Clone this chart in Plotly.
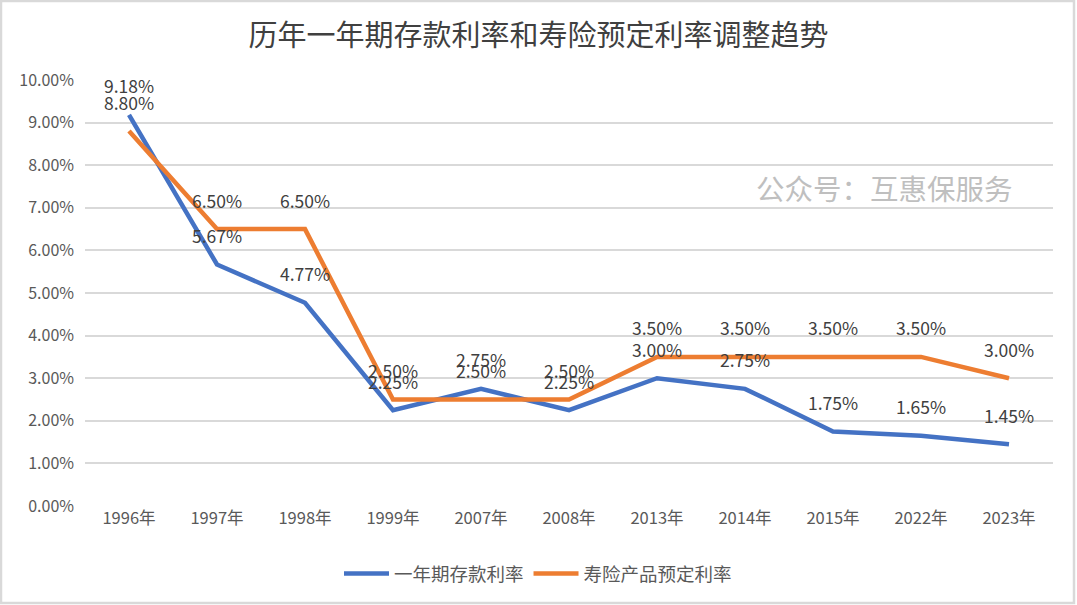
import plotly.graph_objects as go

categories = ["1996年", "1997年", "1998年", "1999年", "2007年", "2008年",
              "2013年", "2014年", "2015年", "2022年", "2023年"]
deposit_rate = [9.18, 5.67, 4.77, 2.25, 2.75, 2.25, 3.00, 2.75, 1.75, 1.65, 1.45]
insurance_rate = [8.80, 6.50, 6.50, 2.50, 2.50, 2.50, 3.50, 3.50, 3.50, 3.50, 3.00]
series_names = ["一年期存款利率", "寿险产品预定利率"]
y_ticks = [0, 1, 2, 3, 4, 5, 6, 7, 8, 9, 10]

W, H = 1077, 605
ML, MR, MT, MB = 85, 24, 80, 99
PW, PH = W - ML - MR, H - MT - MB

BLUE = "#4472C4"
ORANGE = "#ED7D31"
FONT = "Noto Sans CJK SC"

fig = go.Figure()
for name, vals, col in [(series_names[0], deposit_rate, BLUE),
                        (series_names[1], insurance_rate, ORANGE)]:
    fig.add_trace(go.Scatter(x=categories, y=vals, name=name, mode="lines",
                             line=dict(color=col, width=4.5)))
    for c, v in zip(categories, vals):
        fig.add_annotation(x=c, y=v, text=f"{v:.2f}%", showarrow=False,
                           yshift=29, font=dict(family=FONT, size=17.5, color="#404040"))

fig.add_annotation(xref="paper", yref="paper", x=(884 - ML) / PW, y=(H - MB - 187) / PH,
                   xanchor="center", yanchor="middle",
                   text="公众号：互惠保服务", showarrow=False,
                   font=dict(family=FONT, size=28.5, color="#BFBFBF"))

# outer frame
fig.add_shape(type="rect", xref="paper", yref="paper",
              x0=(1 - ML) / PW, x1=(W - 3 - ML) / PW,
              y0=-(MB - 2) / PH, y1=(MT - 1 + PH) / PH,
              line=dict(color="#D9D9D9", width=2.5), layer="below")

fig.update_layout(
    width=W, height=H,
    margin=dict(l=ML, r=MR, t=MT, b=MB),
    paper_bgcolor="white", plot_bgcolor="white",
    title=dict(text="历年一年期存款利率和寿险预定利率调整趋势", x=0.5, xanchor="center",
               y=1 - 36 / H, yanchor="middle",
               font=dict(family=FONT, size=29, color="#404040")),
    font=dict(family=FONT, color="#595959"),
    showlegend=True,
    legend=dict(orientation="h", x=(538 - ML) / PW, xanchor="center", y=-(574 - (H - MB)) / PH,
                yanchor="middle", font=dict(family=FONT, size=18.5, color="#595959"),
                itemwidth=45, tracegroupgap=0),
    xaxis=dict(showgrid=False, showline=False, ticks="", tickfont=dict(size=16.5, color="#595959"),
               range=[-0.5, len(categories) - 0.5]),
    yaxis=dict(range=[0, 10], tickvals=y_ticks, ticktext=[f"{t:.2f}%" for t in y_ticks],
               showgrid=True, gridcolor="#D9D9D9", gridwidth=1.5, zeroline=False,
               showline=False, ticks="", tickfont=dict(size=16, color="#595959"),
               ticklabelstandoff=10),
)

fig.write_html("out.html", config={"displayModeBar": False},
               post_script="document.body.style.margin='0';")
